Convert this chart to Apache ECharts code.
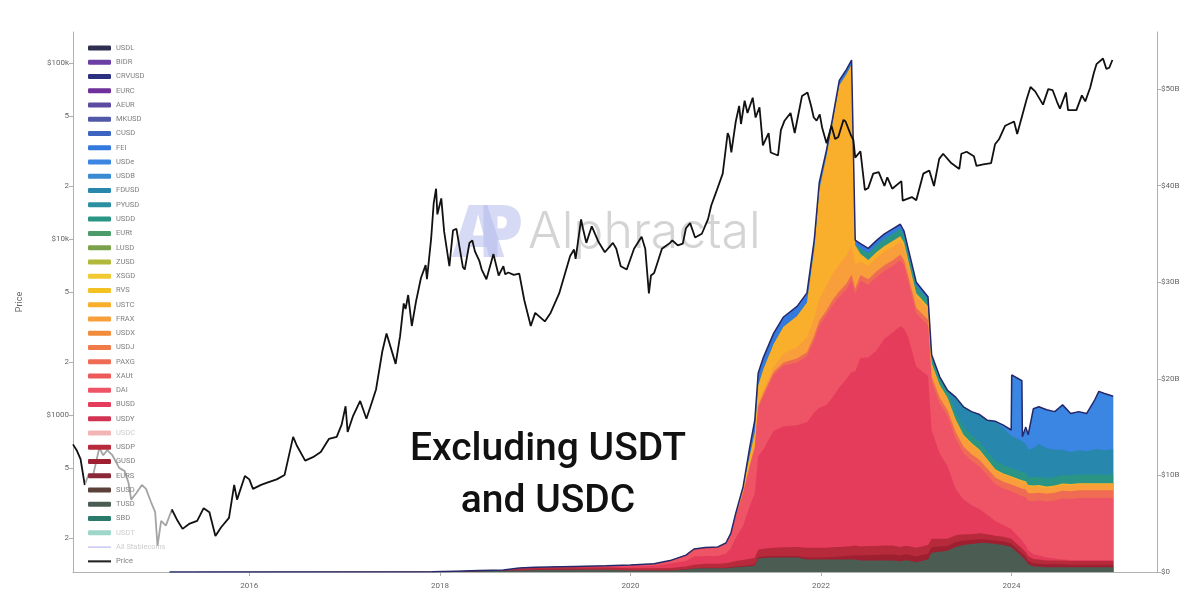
<!DOCTYPE html>
<html><head><meta charset="utf-8">
<script src="https://cdn.jsdelivr.net/npm/echarts@6/dist/echarts.min.js"></script>
<style>html,body{margin:0;padding:0;background:#fff}#c{width:1200px;height:600px}</style>
</head><body><div id="c"></div>
<script>
// ---------- DATA ----------
// BTC price (USD), [date, price]
const priceData = [
['2014-02-24',680],['2014-03-10',630],['2014-03-25',560],['2014-04-10',400],['2014-04-25',460],['2014-05-10',440],['2014-06-05',650],['2014-06-20',590],['2014-07-05',630],['2014-07-25',590],['2014-08-20',500],['2014-09-10',480],['2014-09-25',410],['2014-10-05',330],['2014-10-25',360],['2014-11-15',400],['2014-12-01',380],['2014-12-20',320],
['2015-01-05',280],['2015-01-14',180],['2015-01-28',250],['2015-02-15',235],['2015-03-10',290],['2015-04-01',250],['2015-04-20',225],['2015-05-15',240],['2015-06-15',250],['2015-07-10',295],['2015-08-01',280],['2015-08-24',205],['2015-09-15',230],['2015-10-15',260],['2015-11-04',400],['2015-11-15',330],['2015-12-15',450],
['2016-01-01',430],['2016-01-15',380],['2016-02-15',400],['2016-03-15',415],['2016-04-15',430],['2016-05-15',455],['2016-06-17',750],['2016-07-01',670],['2016-08-02',550],['2016-09-01',575],['2016-10-01',615],['2016-11-01',730],['2016-12-01',750],['2016-12-20',880],
['2017-01-04',1120],['2017-01-12',800],['2017-02-01',980],['2017-03-01',1200],['2017-03-25',950],['2017-04-15',1180],['2017-05-01',1400],['2017-05-25',2300],['2017-06-10',2900],['2017-07-15',1950],['2017-08-01',2800],['2017-08-15',4300],['2017-08-22',4000],['2017-09-01',4800],['2017-09-15',3200],['2017-10-01',4400],['2017-10-20',6000],['2017-11-07',7100],['2017-11-12',5900],['2017-11-28',10000],['2017-12-08',16000],['2017-12-17',19300],['2017-12-22',13800],
['2018-01-06',17000],['2018-01-17',11000],['2018-02-06',7000],['2018-02-20',11200],['2018-03-05',11400],['2018-03-30',6900],['2018-04-06',6700],['2018-04-24',9500],['2018-05-05',9800],['2018-05-15',8500],['2018-06-01',7500],['2018-06-10',6700],['2018-06-28',5900],['2018-07-25',8200],['2018-08-14',6200],['2018-09-01',7000],['2018-09-08',6300],['2018-09-20',6450],['2018-10-11',6250],['2018-11-01',6350],['2018-11-20',4500],['2018-12-15',3200],
['2019-01-01',3800],['2019-02-07',3400],['2019-03-01',3800],['2019-04-03',4900],['2019-05-15',8000],['2019-05-30',8700],['2019-06-05',7700],['2019-06-26',12900],['2019-07-03',11500],['2019-07-16',9500],['2019-08-06',11800],['2019-09-01',9600],['2019-09-25',8400],['2019-10-26',9500],['2019-11-08',8800],['2019-11-25',7000],['2019-12-18',6700],
['2020-01-15',8800],['2020-02-13',10300],['2020-02-27',8800],['2020-03-12',4900],['2020-03-20',6200],['2020-04-01',6400],['2020-05-01',8800],['2020-06-01',9500],['2020-06-10',9800],['2020-07-01',9200],['2020-07-20',9400],['2020-08-01',11500],['2020-08-17',12300],['2020-09-05',10200],['2020-10-01',10700],['2020-10-25',13000],['2020-11-06',15500],['2020-11-25',18500],['2020-12-20',23500],
['2021-01-08',40000],['2021-01-14',38000],['2021-01-22',31000],['2021-02-08',46500],['2021-02-21',57000],['2021-02-28',45000],['2021-03-14',61000],['2021-03-25',52000],['2021-04-14',63500],['2021-04-25',49000],['2021-05-10',56000],['2021-05-23',34000],['2021-06-14',40000],['2021-06-22',31000],['2021-07-20',29800],['2021-07-31',41500],['2021-08-14',47000],['2021-09-06',52000],['2021-09-22',40000],['2021-10-20',65000],['2021-11-10',68000],['2021-11-24',57000],['2021-12-04',49000],['2021-12-15',47000],['2021-12-27',51000],
['2022-01-05',43000],['2022-01-22',35000],['2022-02-10',44000],['2022-02-24',37000],['2022-03-08',38000],['2022-03-28',47500],['2022-04-05',46500],['2022-04-25',39000],['2022-05-05',36500],['2022-05-12',29000],['2022-06-01',31500],['2022-06-18',19000],['2022-07-01',19500],['2022-07-20',23500],['2022-08-10',24000],['2022-09-01',20000],['2022-09-12',22400],['2022-10-01',19300],['2022-11-05',21300],['2022-11-10',16500],['2022-12-15',17300],
['2023-01-01',16600],['2023-01-28',23500],['2023-02-20',24500],['2023-03-10',20000],['2023-03-30',28500],['2023-04-14',30500],['2023-05-15',27000],['2023-06-15',25000],['2023-06-23',30500],['2023-07-13',31300],['2023-08-10',29500],['2023-08-20',26000],['2023-09-15',26500],['2023-10-15',27000],['2023-10-30',34500],['2023-11-15',37000],['2023-12-08',44000],
['2024-01-11',46500],['2024-01-23',39500],['2024-02-28',62000],['2024-03-14',73000],['2024-04-01',69000],['2024-05-01',58000],['2024-05-21',71000],['2024-06-07',70000],['2024-06-24',60000],['2024-07-05',55000],['2024-07-28',68000],['2024-08-05',54000],['2024-09-06',54000],['2024-09-27',65500],['2024-10-10',60500],['2024-10-29',72500],['2024-11-12',88000],['2024-11-22',98500],['2024-12-17',106000],['2024-12-30',92500],
['2025-01-10',94000],['2025-01-22',104000]
];

const stackDates = ['2015-03-01','2017-12-01','2018-03-01','2018-06-01','2018-09-01','2018-11-01','2019-01-01','2019-06-01','2019-10-01','2020-01-01','2020-04-01','2020-06-01','2020-08-01','2020-09-01','2020-10-15','2020-12-01','2021-01-01','2021-01-20','2021-02-08','2021-03-08','2021-04-03','2021-04-22','2021-05-05','2021-05-25','2021-07-03','2021-08-10','2021-10-01','2021-11-08','2021-12-06','2021-12-25','2022-01-22','2022-02-13','2022-03-12','2022-04-08','2022-04-28','2022-05-12','2022-06-01','2022-07-01','2022-08-01','2022-09-01','2022-10-01','2022-11-01','2022-11-15','2022-12-01','2023-01-01','2023-02-15','2023-03-01','2023-04-01','2023-05-01','2023-06-01','2023-07-01','2023-08-01','2023-09-01','2023-10-01','2023-11-01','2023-12-01','2023-12-31','2024-01-02','2024-02-10','2024-02-12','2024-02-25','2024-03-05','2024-03-25','2024-04-15','2024-05-15','2024-06-15','2024-07-15','2024-08-15','2024-09-15','2024-10-15','2024-11-15','2024-12-01','2024-12-20','2025-01-25'];
// market caps, billions of USD (stack order bottom -> top)
const TUSD  = [0,0,0.03,0.08,0.12,0.16,0.2,0.24,0.22,0.15,0.15,0.15,0.25,0.35,0.4,0.38,0.4,0.45,0.5,0.55,0.6,0.65,1.4,1.45,1.5,1.5,1.5,1.3,1.3,1.3,1.3,1.3,1.3,1.3,1.3,1.3,1.2,1.2,1.2,1.2,1.2,1.1,1.2,1.2,1.0,1.3,2.0,2.1,2.2,2.6,2.8,2.9,3.0,3.0,2.9,2.8,2.6,2.6,1.6,1.6,1.2,0.8,0.6,0.55,0.5,0.5,0.5,0.5,0.5,0.5,0.5,0.5,0.5,0.5];
const GUSD  = [0,0,0,0,0,0.05,0.06,0.02,0.01,0.01,0.01,0.02,0.03,0.05,0.05,0.05,0.05,0.07,0.08,0.1,0.12,0.13,0.15,0.15,0.15,0.15,0.15,0.2,0.2,0.2,0.2,0.25,0.3,0.35,0.4,0.45,0.5,0.55,0.55,0.6,0.6,0.6,0.6,0.6,0.6,0.6,0.6,0.55,0.5,0.5,0.45,0.4,0.4,0.35,0.35,0.35,0.35,0.35,0.35,0.35,0.35,0.35,0.3,0.3,0.3,0.3,0.3,0.25,0.25,0.25,0.25,0.25,0.25,0.25];
const USDP  = [0,0,0,0,0.02,0.12,0.16,0.2,0.24,0.24,0.24,0.25,0.3,0.35,0.4,0.42,0.45,0.5,0.55,0.6,0.65,0.7,0.75,0.8,0.85,0.9,0.95,1.0,1.0,1.0,1.0,1.0,1.0,1.0,1.0,1.0,0.95,0.95,0.95,0.95,0.95,0.9,0.9,0.9,0.9,0.9,0.85,0.8,0.75,0.7,0.65,0.6,0.6,0.55,0.5,0.5,0.5,0.5,0.5,0.5,0.5,0.5,0.45,0.45,0.4,0.4,0.4,0.4,0.4,0.4,0.4,0.4,0.4,0.4];
const BUSD  = [0,0,0,0,0,0,0,0.04,0.05,0.18,0.25,0.45,0.55,0.85,0.8,0.8,1.0,1.4,2.4,3.5,5.5,6.65,9.65,10.3,12.1,12.5,12.6,13.0,14.0,14.5,14.8,15.5,16.5,17.3,18.0,18.0,19.5,19.5,20.2,21.4,22.0,22.85,22.5,21.6,18.75,17.5,11.2,8.8,7.5,4.8,3.6,3.0,2.5,2.0,1.5,1.2,1.0,1.0,0.8,0.8,0.7,0.6,0.5,0.4,0.3,0.2,0.1,0.1,0.1,0.1,0.1,0.1,0.1,0.1];
const DAI   = [0,0.02,0.05,0.07,0.07,0.08,0.08,0.08,0.1,0.1,0.16,0.25,0.55,0.7,0.8,0.85,1.0,1.4,2.2,3.3,4.0,4.6,5.0,5.5,5.8,6.3,6.5,6.8,7.5,8.5,9.3,9.5,9.4,9.3,9.5,8.0,8.0,7.5,7.6,7.0,6.9,6.8,6.5,5.8,5.5,5.2,5.0,5.2,5.2,5.2,4.8,4.6,4.4,4.1,3.8,3.8,3.9,3.9,4.6,4.6,5.0,5.1,5.5,5.7,5.8,6.0,6.3,6.3,6.4,6.4,6.4,6.4,6.4,6.4];
const PAXG  = [0,0,0,0,0,0,0,0,0.03,0.04,0.05,0.06,0.07,0.08,0.08,0.1,0.1,0.12,0.15,0.2,0.22,0.23,0.25,0.27,0.3,0.35,0.4,0.45,0.5,0.5,0.5,0.55,0.55,0.6,0.6,0.6,0.6,0.6,0.6,0.6,0.6,0.6,0.6,0.6,0.6,0.6,0.6,0.6,0.6,0.7,0.7,0.7,0.7,0.7,0.7,0.7,0.7,0.7,0.8,0.8,0.8,0.8,0.8,0.8,0.8,0.8,0.8,0.8,0.8,0.8,0.8,0.8,0.8,0.8];
const FRAX  = [0,0,0,0,0,0,0,0,0,0,0,0,0,0,0,0,0,0.06,0.2,0.15,0.2,0.25,0.3,0.35,0.5,0.9,1.2,1.5,1.8,2.2,2.5,2.7,2.8,2.9,3.0,2.5,1.4,1.4,1.4,1.4,1.4,1.3,1.3,1.2,1.2,1.1,1.1,1.1,1.1,1.1,1.0,1.0,0.9,0.8,0.7,0.7,0.7,0.7,0.7,0.7,0.7,0.7,0.65,0.65,0.6,0.6,0.6,0.6,0.6,0.6,0.6,0.6,0.6,0.6];
const USTC  = [0,0,0,0,0,0,0,0,0,0,0,0,0,0,0,0,0,0,0,0.4,0.8,1.2,1.8,2.2,2.4,2.8,3.2,3.65,7.1,11.3,13.5,15.5,18.55,18.75,18.7,2.0,0.8,0.6,0.6,0.6,0.6,0.6,0.5,0.4,0.3,0.3,0.25,0.2,0.2,0.2,0.2,0.15,0.15,0.15,0.15,0.15,0.15,0.15,0.15,0.15,0.15,0.15,0.15,0.15,0.15,0.15,0.15,0.15,0.15,0.15,0.15,0.15,0.15,0.15];
const USDD  = [0,0,0,0,0,0,0,0,0,0,0,0,0,0,0,0,0,0,0,0,0,0,0,0,0,0,0,0,0,0,0,0,0,0,0,0,0.6,0.7,0.7,0.75,0.75,0.75,0.7,0.7,0.75,0.7,0.7,0.75,0.75,0.8,0.8,0.8,0.8,0.8,0.85,0.85,0.85,0.85,0.85,0.85,0.85,0.85,0.85,0.85,0.85,0.9,0.9,0.9,0.9,0.9,0.9,0.9,0.9,0.9];
const FDUSD = [0,0,0,0,0,0,0,0,0,0,0,0,0,0,0,0,0,0,0,0,0,0,0,0,0,0,0,0,0,0,0,0,0,0,0,0,0,0,0,0,0,0,0,0,0,0,0,0,0,1.5,2.1,2.45,2.85,3.25,4.15,3.85,3.35,3.35,3.2,3.2,3.0,2.8,3.0,3.4,3.1,2.8,2.6,2.4,2.5,2.4,2.6,2.6,2.5,2.6];
const USDe  = [0,0,0,0,0,0,0,0,0,0,0,0,0,0,0,0,0,0,0,0,0,0,0,0,0,0,0,0,0,0,0,0,0,0,0,0,0,0,0,0,0,0,0,0,0,0,0,0,0,0,0,0,0,0,0,0.3,0.6,6.3,6.25,0.45,1.75,1.55,4.1,3.85,4.0,3.95,4.65,4.0,4.0,3.9,5.1,6.0,5.9,5.5];
const FEI   = [0,0,0,0,0,0,0,0,0,0,0,0,0,0,0,0,0,0,0,0,0.9,1.3,1.3,1.2,1.1,1.0,1.0,1.0,1.0,0.8,0.6,0.5,0.5,0.5,0.5,0.5,0.45,0.5,0.5,0.5,0.5,0.5,0.5,0.5,0.4,0.3,0.2,0.1,0,0,0,0,0,0,0,0,0,0,0,0,0,0,0,0,0,0,0,0,0,0,0,0,0,0];

const legendNames = ['USDL','BIDR','CRVUSD','EURC','AEUR','MKUSD','CUSD','FEI','USDe','USDB','FDUSD','PYUSD','USDD','EURt','LUSD','ZUSD','XSGD','RVS','USTC','FRAX','USDX','USDJ','PAXG','XAUt','DAI','BUSD','USDY','USDC','USDP','GUSD','EURS','SUSD','TUSD','SBD','USDT','All Stablecoins','Price'];
const priceTickValues = [200,500,1000,2000,5000,10000,20000,50000,100000];
const priceTickLabels = ['2','5','$1000','2','5','$10k','2','5','$100k'];
const capTickValues = [0,10,20,30,40,50];
const capTickLabels = ['$0','$10B','$20B','$30B','$40B','$50B'];
const yearTicks = [2016,2018,2020,2022,2024];

// ---------- STYLES ----------
const colors = {
  USDL:'#2f2f4f', BIDR:'#6b3fa3', CRVUSD:'#2c3080', EURC:'#70309b', AEUR:'#5d4ba2', MKUSD:'#5059a8',
  CUSD:'#3e64c2', FEI:'#3479dd', USDe:'#3a86e2', USDB:'#3a8bd2', FDUSD:'#2787ad', PYUSD:'#2a8fa0',
  USDD:'#2b9585', EURt:'#4c9b6b', LUSD:'#7ba14b', ZUSD:'#b2b83c', XSGD:'#f1c932', RVS:'#f4c022',
  USTC:'#f9af2b', FRAX:'#f89e3a', USDX:'#f28c3d', USDJ:'#f07a48', PAXG:'#f06b54', XAUt:'#ec5a5a',
  DAI:'#ee5366', BUSD:'#e53c5b', USDY:'#d23352', USDC:'#f3b4b4', USDP:'#b72a3c', GUSD:'#9e1f30',
  EURS:'#8a2838', SUSD:'#5b4139', TUSD:'#4b5c53', SBD:'#2a7b6b', USDT:'#9ed6ca',
  'All Stablecoins':'#a6a6ec', Price:'#111111'
};
const faded = {USDC:true, USDT:true, 'All Stablecoins':true};
const layers = [['TUSD',TUSD],['GUSD',GUSD],['USDP',USDP],['BUSD',BUSD],['DAI',DAI],['PAXG',PAXG],['FRAX',FRAX],['USTC',USTC],['USDD',USDD],['FDUSD',FDUSD],['USDe',USDe],['FEI',FEI]];

const ts = s => Date.parse(s + 'T00:00:00Z');
const log10 = Math.log10;
const priceTicksLog = priceTickValues.map(v => log10(v));
const yearTs = yearTicks.map(y => Date.UTC(y,0,1));

// stacking: cumulative tops, painted from the top layer down
const cum = [];
let running = stackDates.map(() => 0);
layers.forEach(([name, arr]) => {
  running = running.map((s, i) => +(s + arr[i]).toFixed(4));
  cum.push([name, running.slice()]);
});
const series = [];
for (let k = cum.length - 1; k >= 0; k--) {
  const [name, tops] = cum[k];
  const top = k === cum.length - 1;
  series.push({
    name, type:'line', yAxisIndex:1, symbol:'none', showSymbol:false,
    color: colors[name], z: 2,
    lineStyle: top ? {width:1.5, color:'#25296b'} : {width:0},
    areaStyle:{opacity:1, color: colors[name]},
    emphasis:{disabled:true}, silent:true,
    data: stackDates.map((d,i) => [ts(d), tops[i]])
  });
}
const layerNames = layers.map(l => l[0]);
legendNames.forEach(n => {
  if (layerNames.includes(n) || n === 'Price' || n === 'All Stablecoins') return;
  series.push({name:n, type:'line', yAxisIndex:1, symbol:'none', color:colors[n], lineStyle:{width:0}, areaStyle:{opacity:1}, data:[]});
});
series.push({name:'All Stablecoins', type:'line', yAxisIndex:1, symbol:'none', color:colors['All Stablecoins'], lineStyle:{width:1}, data:[]});
series.push({
  name:'Price', type:'line', yAxisIndex:0, symbol:'none', showSymbol:false, z:3,
  color:'#111', lineStyle:{width:1.8, color:'#111'}, emphasis:{disabled:true}, silent:true,
  data: priceData.map(([d, p]) => [ts(d), log10(p)])
});

const legendData = legendNames.map(n => {
  const item = {name:n};
  if (n === 'Price') { item.icon = 'path://M0,0H100V9H0Z'; item.itemStyle = {color:'#222', borderWidth:0}; }
  else if (n === 'All Stablecoins') { item.icon = 'path://M0,0H100V4H0Z'; item.itemStyle = {color: colors[n], borderWidth:0}; }
  else { item.icon = 'roundRect'; item.itemStyle = {color: colors[n], borderWidth:0}; }
  if (faded[n]) item.textStyle = {color:'#cdcdcd'};
  return item;
});

const option = {
  animation:false,
  backgroundColor:'#fff',
  grid:{left:73, right:43, top:32, bottom:28, containLabel:false},
  legend:{
    z:10,
    orient:'vertical', left:85, top:40, padding:[3,6,3,3], itemGap:4.26,
    itemWidth:23, itemHeight:5, selectedMode:false,
    backgroundColor:'rgba(255,255,255,0.62)',
    itemStyle:{borderWidth:0},
    textStyle:{fontSize:7.5, color:'#808080', lineHeight:10, fontFamily:'Roboto'},
    data: legendData
  },
  xAxis:{
    type:'value', min: ts('2014-02-24'), max: ts('2025-07-12'),
    axisLine:{lineStyle:{color:'#b0b0b0', width:1}},
    axisTick:{show:true, length:4, lineStyle:{color:'#b0b0b0'}, customValues: yearTs},
    axisLabel:{customValues: yearTs, formatter: v => String(new Date(v).getUTCFullYear()), color:'#666', fontSize:8, margin:10, fontFamily:'Roboto'},
    splitLine:{show:false}
  },
  yAxis:[
    {
      type:'value', position:'left', min: log10(128), max: log10(150000),
      name:'Price', nameLocation:'middle', nameGap:49, nameRotate:90,
      nameTextStyle:{color:'#666', fontSize:9, fontFamily:'Roboto'},
      axisLine:{show:true, lineStyle:{color:'#b0b0b0'}},
      axisTick:{show:true, length:4, lineStyle:{color:'#b0b0b0'}, customValues: priceTicksLog},
      axisLabel:{customValues: priceTicksLog, color:'#666', fontSize:8, margin:4, fontFamily:'Roboto',
        formatter: v => { const i = priceTicksLog.findIndex(t => Math.abs(t - v) < 1e-6); return i >= 0 ? priceTickLabels[i] : ''; }},
      splitLine:{show:false}
    },
    {
      type:'value', position:'right', min:0, max:55.9,
      axisLine:{show:true, lineStyle:{color:'#b0b0b0'}},
      axisTick:{show:true, length:4, lineStyle:{color:'#b0b0b0'}, customValues: capTickValues},
      axisLabel:{customValues: capTickValues, color:'#666', fontSize:8, margin:4, fontFamily:'Roboto',
        formatter: v => { const i = capTickValues.indexOf(v); return i >= 0 ? capTickLabels[i] : ''; }},
      splitLine:{show:false}
    }
  ],
  graphic:[
    {type:'text', z:-10, left:452, top:200, silent:true, style:{text:'A', font:'900 72px "Noto Sans"', fill:'rgba(176,182,236,0.5)'}},
    {type:'text', z:-10, left:478, top:200, silent:true, style:{text:'P', font:'900 72px "Noto Sans"', fill:'rgba(176,182,236,0.5)'}},
    {type:'text', z:-10, left:528, top:208, silent:true, style:{text:'Alphractal', font:'300 50px Inter', fill:'#d4d4d4'}},
    {type:'text', z:100, silent:true, x:548, y:424, style:{text:'Excluding USDT\nand USDC', font:'500 39px Roboto', fill:'#111', align:'center', verticalAlign:'top', lineHeight:52}}
  ],
  series
};
const chart = echarts.init(document.getElementById('c'));
chart.setOption(option);
</script>
</body></html>
